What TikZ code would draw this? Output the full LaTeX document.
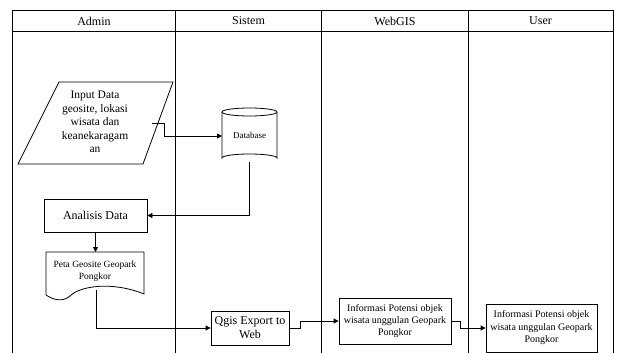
\documentclass[tikz,border=0pt]{standalone}
\usepackage{fontspec}
\setmainfont{Liberation Serif}
\usetikzlibrary{arrows.meta}
\tikzset{
  lane/.style={line width=0.8pt},
  shp/.style={draw, line width=0.8pt},
  procbox/.style={draw, line width=0.8pt, inner sep=0pt, align=center},
  flow/.style={line width=0.8pt, -{Triangle[length=5pt,width=5pt]}},
  txt/.style={inner sep=0pt, align=center},
}
\begin{document}
\begin{tikzpicture}[x=1pt,y=-1pt]
\useasboundingbox (0,0) rectangle (621,353);

% swimlanes
\draw[lane] (12.5,10) rectangle (613,31);
\foreach \x in {12.5,175.5,321.5,468,613}
  \draw[lane] (\x,10) -- (\x,353);
\node[txt, font=\fontsize{12}{14}\selectfont] (hAdmin) at (94,21) {Admin};
\node[txt, font=\fontsize{12}{14}\selectfont] (hSistem) at (248.5,21) {Sistem};
\node[txt, font=\fontsize{12}{14}\selectfont] (hWeb) at (395,21) {WebGIS};
\node[txt, font=\fontsize{12}{14}\selectfont] (hUser) at (540.5,21) {User};

% input data (parallelogram)
\draw[shp] (59,82) -- (173,82) -- (143,164) -- (18,164) -- cycle;
\node[txt, font=\fontsize{11.5}{13.5}\selectfont] (input) at (95,122)
  {Input Data\\geosite, lokasi\\wisata dan\\keanekaragam\\an};
\coordinate (inR) at (152,123);

% database (cylinder)
\draw[shp] (222,112) -- (222,158) arc[start angle=180, end angle=360, x radius=27.5, y radius=4]
  -- (277,112);
\draw[shp] (249.5,112) ellipse[x radius=27.5, y radius=4];
\node[txt, font=\fontsize{9}{11}\selectfont] (db) at (249.5,135) {Database};
\coordinate (dbW) at (222,136);
\coordinate (dbS) at (249.5,162);

% analisis data
\node[procbox, minimum width=103pt, minimum height=33pt,
      font=\fontsize{12}{14}\selectfont] (ana) at (95.5,215.5) {Analisis Data};

% map document
\draw[shp] (46,295) -- (46,252) -- (144,252) -- (144,294)
  .. controls (112,281) and (80,286) .. (70,296)
  .. controls (62,303) and (52,299) .. (46,295);
\node[txt, font=\fontsize{9.5}{12}\selectfont] (peta) at (95,271)
  {Peta Geosite Geopark\\Pongkor};
\coordinate (petaN) at (95.5,252);
\coordinate (petaS) at (96,290);

% export
\node[procbox, minimum width=78pt, minimum height=34pt,
      font=\fontsize{12}{14}\selectfont] (qgis) at (250,328) {Qgis Export to\\Web};

% information outputs
\node[procbox, minimum width=112pt, minimum height=46pt,
      font=\fontsize{10}{12}\selectfont] (info1) at (395,321)
  {Informasi Potensi objek\\wisata unggulan Geopark\\Pongkor};
\node[procbox, minimum width=111pt, minimum height=48pt,
      font=\fontsize{10}{12.5}\selectfont] (info2) at (541.5,328)
  {Informasi Potensi objek\\wisata unggulan Geopark\\Pongkor};

% flows
\draw[flow] (inR) -- (164,123) -- (164,136) -- (dbW);
\draw[flow] (dbS) |- (ana.east);
\draw[flow] (ana.south) -- (petaN);
\draw[flow] (petaS) |- (qgis.west);
\draw[flow] (qgis.east) -- ++(11,0) |- (info1.west);
\draw[flow] (info1.east) -- ++(9,0) |- (info2.west);
\end{tikzpicture}
\end{document}
